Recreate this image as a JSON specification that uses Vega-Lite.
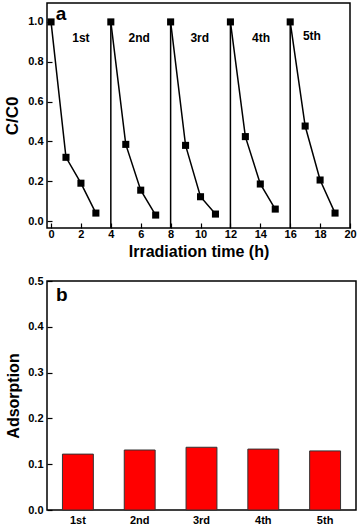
{
  "$schema": "https://vega.github.io/schema/vega-lite/v6.json",
  "padding": {"left": 2, "top": 2, "right": 0, "bottom": 0},
  "background": "white",
  "spacing": 14,
  "config": {
    "font": "Liberation Sans",
    "view": {"stroke": "black", "strokeWidth": 1.5},
    "axis": {
      "labelFont": "Liberation Sans", "labelFontWeight": "bold", "labelFontSize": 11, "labelColor": "black",
      "titleFont": "Liberation Sans", "titleFontWeight": "bold", "titleColor": "black",
      "domain": false, "grid": false, "tickColor": "black", "tickSize": -5, "tickWidth": 1.2, "labelPadding": 9, "labelOverlap": false
    }
  },
  "vconcat": [
    {
      "width": 303, "height": 225,
      "encoding": {
        "x": {"field": "x", "type": "quantitative", "scale": {"domain": [-0.27, 20], "nice": false},
          "axis": {"title": "Irradiation time (h)", "titleFontSize": 16, "values": [0, 2, 4, 6, 8, 10, 12, 14, 16, 18, 20], "labelFlush": false, "labelOverlap": false, "labelPadding": 5, "titlePadding": 4}},
        "y": {"field": "y", "type": "quantitative", "scale": {"domain": [-0.035, 1.095], "nice": false},
          "axis": {"title": "C/C0", "titleFontSize": 17, "values": [0, 0.2, 0.4, 0.6, 0.8, 1.0], "format": ".1f", "titlePadding": 6, "labelOverlap": false}}
      },
      "layer": [
        {
          "data": {"values": [
            {"x": 4, "y": -0.035, "y1": 1.0},
            {"x": 8, "y": -0.035, "y1": 1.0},
            {"x": 12, "y": -0.035, "y1": 1.0},
            {"x": 16, "y": -0.035, "y1": 1.0}
          ]},
          "mark": {"type": "rule", "color": "black", "strokeWidth": 1.5},
          "encoding": {"y2": {"field": "y1"}}
        },
        {
          "data": {"values": [
            {"cycle": "1st", "x": 0, "y": 1.0}, {"cycle": "1st", "x": 1, "y": 0.32}, {"cycle": "1st", "x": 2, "y": 0.19}, {"cycle": "1st", "x": 3, "y": 0.04},
            {"cycle": "2nd", "x": 4, "y": 1.0}, {"cycle": "2nd", "x": 5, "y": 0.385}, {"cycle": "2nd", "x": 6, "y": 0.155}, {"cycle": "2nd", "x": 7, "y": 0.03},
            {"cycle": "3rd", "x": 8, "y": 1.0}, {"cycle": "3rd", "x": 9, "y": 0.38}, {"cycle": "3rd", "x": 10, "y": 0.122}, {"cycle": "3rd", "x": 11, "y": 0.035},
            {"cycle": "4th", "x": 12, "y": 1.0}, {"cycle": "4th", "x": 13, "y": 0.424}, {"cycle": "4th", "x": 14, "y": 0.186}, {"cycle": "4th", "x": 15, "y": 0.06},
            {"cycle": "5th", "x": 16, "y": 1.0}, {"cycle": "5th", "x": 17, "y": 0.477}, {"cycle": "5th", "x": 18, "y": 0.206}, {"cycle": "5th", "x": 19, "y": 0.04}
          ]},
          "layer": [
            {
              "mark": {"type": "line", "color": "black", "strokeWidth": 1.5},
              "encoding": {"detail": {"field": "cycle"}}
            },
            {
              "mark": {"type": "point", "shape": "square", "filled": true, "color": "black", "size": 50, "opacity": 1},
              "encoding": {}
            }
          ]
        },
        {
          "data": {"values": [
            {"label": "1st", "x": 2.0, "y": 0.92},
            {"label": "2nd", "x": 5.9, "y": 0.92},
            {"label": "3rd", "x": 9.95, "y": 0.92},
            {"label": "4th", "x": 14.05, "y": 0.92},
            {"label": "5th", "x": 17.45, "y": 0.93}
          ]},
          "mark": {"type": "text", "fontWeight": "bold", "fontSize": 12, "font": "Liberation Sans", "color": "black"},
          "encoding": {"text": {"field": "label"}}
        },
        {
          "data": {"values": [{"label": "a", "x": 0.67, "y": 1.04}]},
          "mark": {"type": "text", "fontWeight": "bold", "fontSize": 19, "font": "Liberation Sans", "color": "black"},
          "encoding": {"text": {"field": "label"}}
        }
      ]
    },
    {
      "width": 309, "height": 229,
      "layer": [
        {
          "data": {"values": [
            {"cycle": "1st", "ads": 0.122},
            {"cycle": "2nd", "ads": 0.131},
            {"cycle": "3rd", "ads": 0.137},
            {"cycle": "4th", "ads": 0.133},
            {"cycle": "5th", "ads": 0.129}
          ]},
          "mark": {"type": "bar", "color": "#ff0000", "stroke": "#333333", "strokeWidth": 1},
          "encoding": {
            "x": {"field": "cycle", "type": "nominal", "sort": null, "scale": {"paddingInner": 0.5, "paddingOuter": 0.25},
              "axis": {"title": null, "labelAngle": 0, "ticks": false, "labelPadding": 4}},
            "y": {"field": "ads", "type": "quantitative", "scale": {"domain": [0, 0.5], "nice": false},
              "axis": {"title": "Adsorption", "titleFontSize": 16, "values": [0, 0.1, 0.2, 0.3, 0.4, 0.5], "format": ".1f", "titlePadding": 6, "labelOverlap": false}}
          }
        },
        {
          "data": {"values": [{"cycle": "1st", "label": "b", "y": 0.469}]},
          "mark": {"type": "text", "fontWeight": "bold", "fontSize": 19, "font": "Liberation Sans", "color": "black", "dx": -16},
          "encoding": {
            "x": {"field": "cycle", "type": "nominal", "sort": null},
            "y": {"field": "y", "type": "quantitative"},
            "text": {"field": "label"}
          }
        }
      ]
    }
  ]
}
